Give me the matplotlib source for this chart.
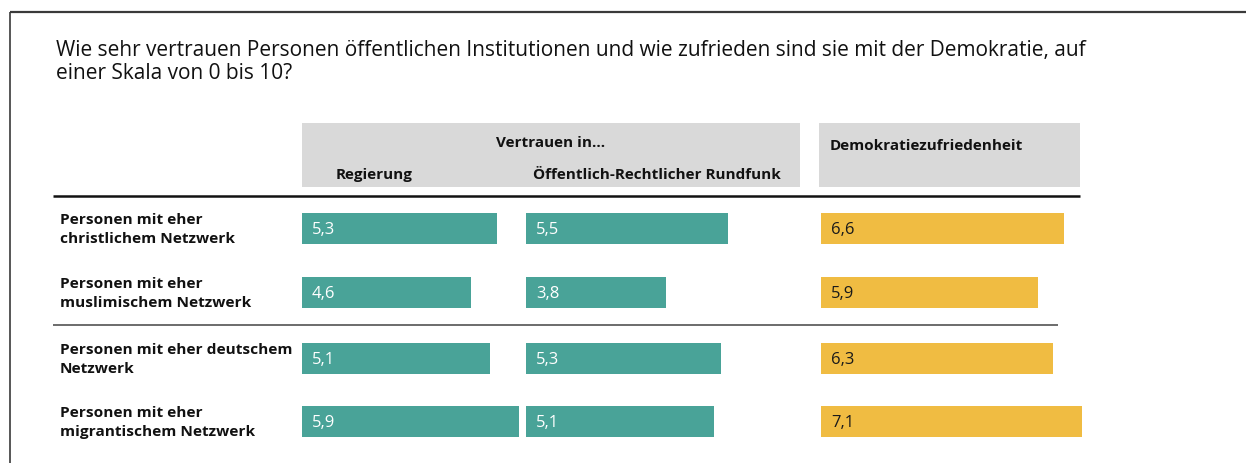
import matplotlib
matplotlib.use("Agg")
import matplotlib.pyplot as plt
from matplotlib.patches import Rectangle

plt.rcParams['font.family'] = ['Open Sans', 'DejaVu Sans']

# ---- data ----
groups = [
    "Personen mit eher\nchristlichem Netzwerk",
    "Personen mit eher\nmuslimischem Netzwerk",
    "Personen mit eher deutschem\nNetzwerk",
    "Personen mit eher\nmigrantischem Netzwerk",
]
regierung = [5.3, 4.6, 5.1, 5.9]
rundfunk = [5.5, 3.8, 5.3, 5.1]
demokratie = [6.6, 5.9, 6.3, 7.1]
col_labels = ["Regierung", "Öffentlich-Rechtlicher Rundfunk", "Demokratiezufriedenheit"]
group_header = "Vertrauen in…"
title = ("Wie sehr vertrauen Personen öffentlichen Institutionen und wie zufrieden sind sie mit der Demokratie, auf\n"
         "einer Skala von 0 bis 10?")

TEAL = "#49A398"
YELLOW = "#F0BC42"
GRAY = "#D9D9D9"

W, H = 1246, 464
fig = plt.figure(figsize=(W / 100, H / 100), dpi=100)
fig.patch.set_facecolor("white")

# background axes in pixel coordinates
bg = fig.add_axes([0, 0, 1, 1])
bg.set_xlim(0, W)
bg.set_ylim(H, 0)
bg.axis("off")

# frame
bg.plot([10, W], [13, 13], color="#3a3a3a", lw=1.6, solid_capstyle="butt")
bg.plot([10, 10], [13, H], color="#3a3a3a", lw=1.2, solid_capstyle="butt")

# title
bg.text(56, 79, title, fontsize=15.0, va="baseline", ha="left", color="#111111",
        linespacing=1.12)

# header boxes
bg.add_patch(Rectangle((302, 124), 498, 64, facecolor=GRAY, edgecolor="none"))
bg.add_patch(Rectangle((819, 124), 261, 64, facecolor=GRAY, edgecolor="none"))
hfs = 11.0
bg.text(551, 143, group_header, fontsize=hfs, fontweight="bold", ha="center", va="center", color="#111111")
bg.text(374, 175, col_labels[0], fontsize=hfs, fontweight="bold", ha="center", va="center", color="#111111")
bg.text(657, 175, col_labels[1], fontsize=hfs, fontweight="bold", ha="center", va="center", color="#111111")
bg.text(830, 146, col_labels[2], fontsize=hfs, fontweight="bold", ha="left", va="center", color="#111111")

# rule lines
bg.plot([53, 1080], [197, 197], color="#111111", lw=1.8, solid_capstyle="butt")
bg.plot([53, 1058], [326, 326], color="#444444", lw=1.1, solid_capstyle="butt")

# row layout (pixel centres)
row_y = [229.5, 293.5, 359.5, 422.5]
bar_h = 31
for y, g in zip(row_y, groups):
    bg.text(60, y, g, fontsize=11.1, fontweight="bold", ha="left", va="center",
            color="#111111", linespacing=1.38)

PX_PER_UNIT = 36.8
columns = [
    (302, 220, regierung, TEAL, "white"),
    (526, 220, rundfunk, TEAL, "white"),
    (821, 270, demokratie, YELLOW, "#1a1a1a"),
]
for x0, wpx, vals, col, tcol in columns:
    ax = fig.add_axes([x0 / W, 0, wpx / W, 1])
    ax.set_xlim(0, wpx / PX_PER_UNIT)
    ax.set_ylim(H, 0)
    ax.axis("off")
    ax.barh(row_y, vals, height=bar_h, color=col, edgecolor="none", align="center")
    for y, v in zip(row_y, vals):
        ax.text(0.27, y + 1, f"{v:.1f}".replace(".", ","), fontsize=12, color=tcol,
                ha="left", va="center")

fig.savefig("out.png", dpi=100, facecolor="white")
